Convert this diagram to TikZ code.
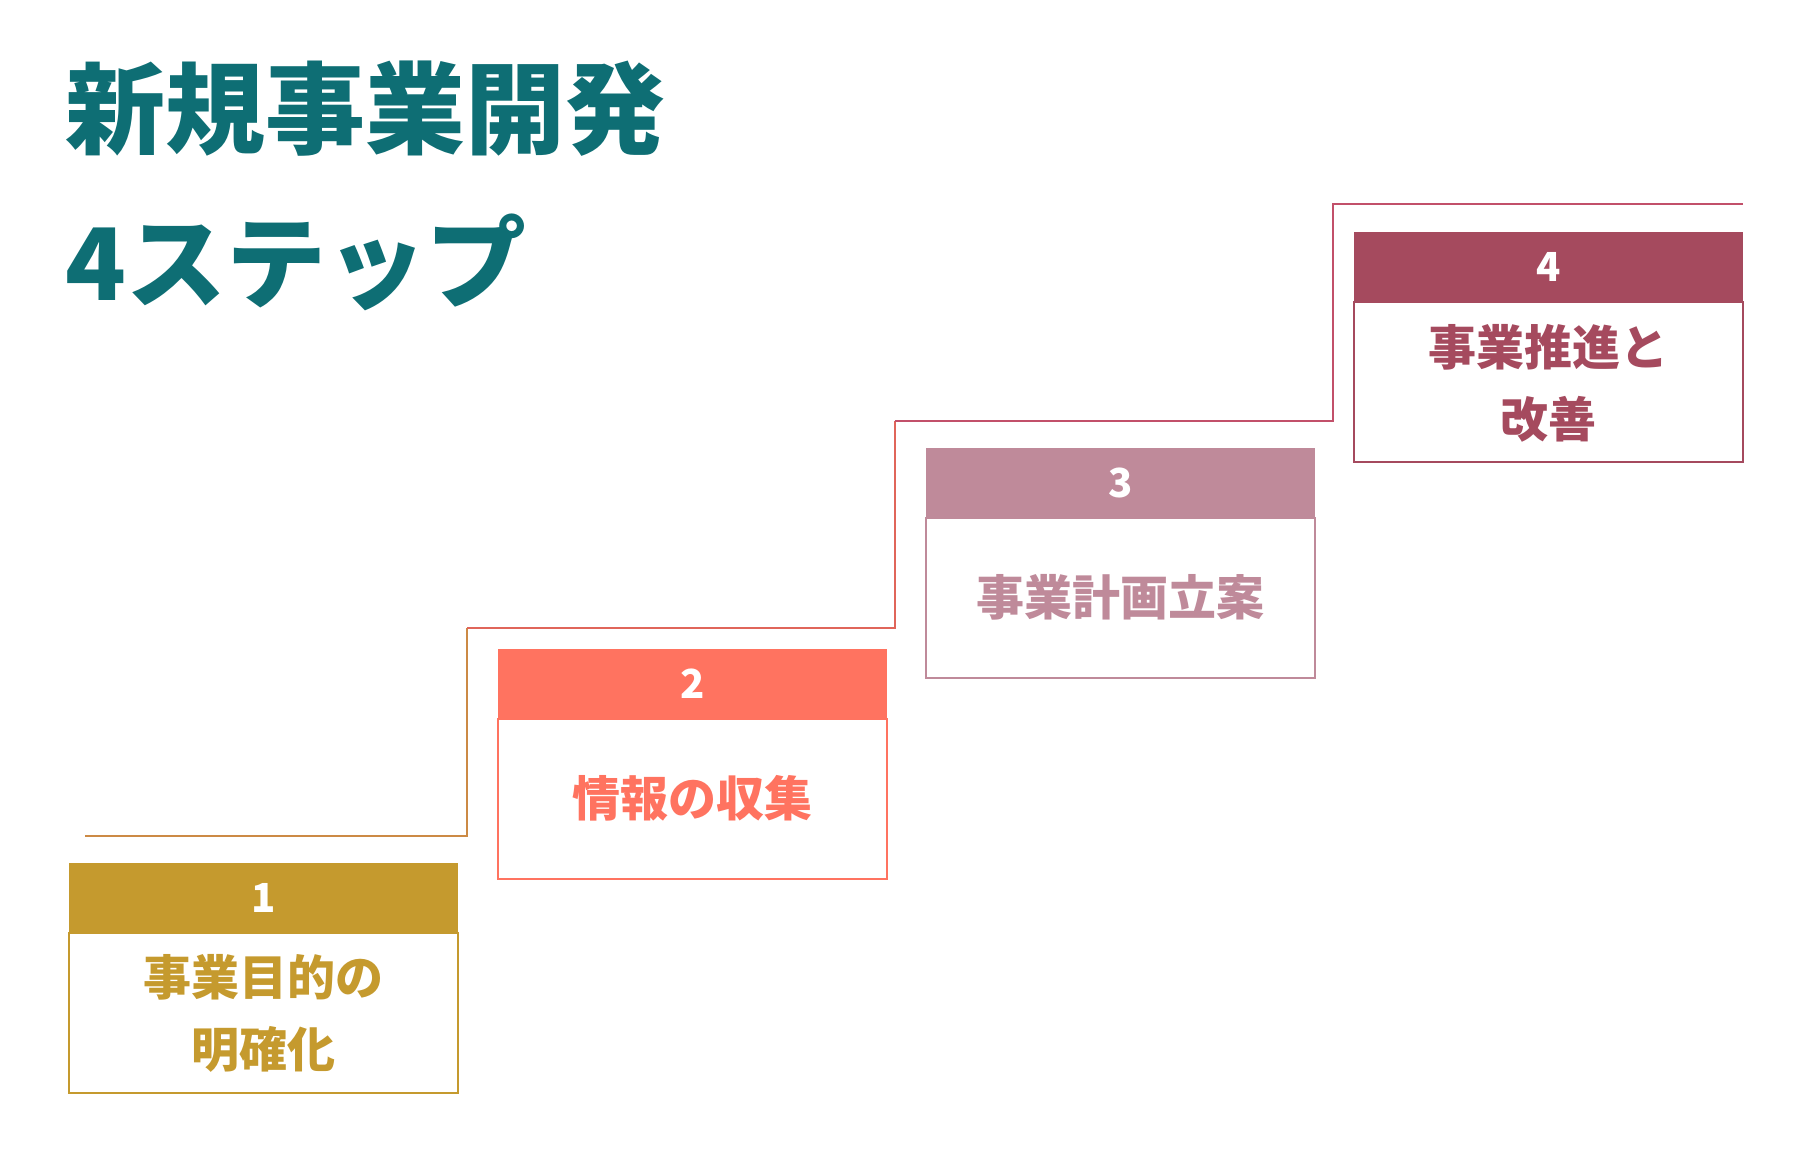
\documentclass[tikz,border=0pt]{standalone}
\usepackage{fontspec}
\setmainfont{Noto Sans CJK JP}
\definecolor{teal}{HTML}{0E6E74}
\definecolor{gold}{HTML}{C59A2E}
\definecolor{coral}{HTML}{FF7360}
\definecolor{mauve}{HTML}{BF8A9A}
\definecolor{wine}{HTML}{A54A5E}
\definecolor{l1}{HTML}{CC8A45}
\definecolor{l2}{HTML}{E0655A}
\definecolor{l3}{HTML}{C2506A}
\begin{document}
\begin{tikzpicture}[x=1pt,y=-1pt,
  hdr/.style={font=\bfseries\fontsize{40}{40}\selectfont,text=white},
  body/.style={font=\bfseries\fontsize{48}{72}\selectfont,align=center},
  title/.style={font=\bfseries\fontsize{100}{100}\selectfont,text=teal,anchor=west}]
\useasboundingbox (0,0) rectangle (1800,1155);
\node[title] (t1) at (62,109) {新規事業開発};
\node[title] (t2) at (62,262) {4ステップ};
% lines
\coordinate (a0) at (85,836); \coordinate (a1) at (467,836); \coordinate (a2) at (467,628);
\coordinate (b1) at (895,628); \coordinate (b2) at (895,421);
\coordinate (c1) at (1333,421); \coordinate (c2) at (1333,204); \coordinate (c3) at (1743,204);
\draw[l1,line width=2.5pt] (a0)--(a1)--(a2);
\draw[l2,line width=2.5pt] (a2)--(b1)--(b2);
\draw[l3,line width=2.5pt] (b2)--(c1)--(c2)--(c3);
% boxes
\foreach \n/\x/\t/\c in {1/69/863/gold,2/498/649/coral,3/926/448/mauve,4/1354/232/wine}{
  \fill[\c] (\x,\t) rectangle (\x+389,\t+70);
  \draw[\c,line width=2.5pt] (\x,\t+70) rectangle (\x+389,\t+230);
  \node[hdr] (h\n) at (\x+194.5,\t+35) {\n};
}
\node[body,text=gold] (s1) at (263.5,1013) {事業目的の\\明確化};
\node[body,text=coral] (s2) at (692.5,798) {情報の収集};
\node[body,text=mauve] (s3) at (1120.5,597) {事業計画立案};
\node[body,text=wine] (s4) at (1548.5,383) {事業推進と\\改善};
\end{tikzpicture}
\end{document}
